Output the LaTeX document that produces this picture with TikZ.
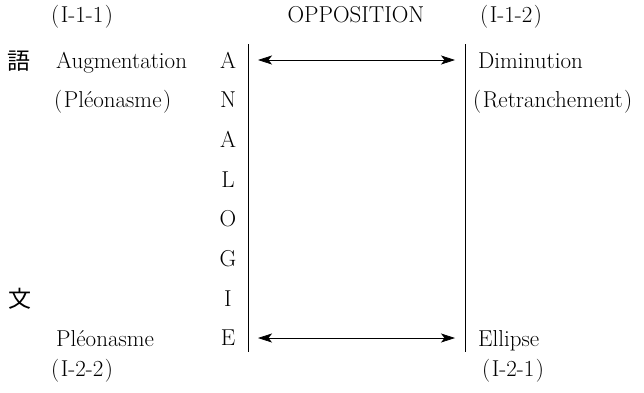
\documentclass[tikz,border=0pt]{standalone}
\usepackage{fontspec}
\newfontfamily\jfont{Noto Sans CJK JP}
\usetikzlibrary{arrows.meta}
% bracketed labels with a little air inside the parentheses
\newcommand{\brk}[1]{(\kern1.5pt#1\kern1.5pt)}
\begin{document}
\begin{tikzpicture}[x=1pt,y=-1pt,
  lbl/.style={inner sep=0pt, anchor=base west, font=\fontsize{23}{26}\selectfont},
  letter/.style={inner sep=0pt, anchor=base, font=\fontsize{23}{26}\selectfont},
  kanji/.style={inner sep=0pt, anchor=base, font=\jfont\fontsize{23}{26}\selectfont},
  rulebar/.style={line width=0.9pt},
  opp/.style={line width=0.7pt,
    {Stealth[length=14pt,width=9pt,inset=3.5pt]}-{Stealth[length=14pt,width=9pt,inset=3.5pt]}}]
\useasboundingbox (0,0) rectangle (644,392);

% top labels
\node[lbl] (c11) at (51,22) {\brk{I-1-1}};
\node[letter] (opp) at (356,22) {OPPOSITION};
\node[lbl] (c12) at (480,22) {\brk{I-1-2}};

% side labels
\node[kanji] (go) at (19,69) {語};
\node[kanji] (bun) at (20,307) {文};

% left column
\node[lbl] (aug) at (56,68) {Augmentation};
\node[lbl] (pleo1) at (54,107.7) {\brk{Pléonasme}};
\node[lbl] (pleo2) at (56,346) {Pléonasme};
\node[lbl] (c22) at (51,376) {\brk{I-2-2}};

% right column
\node[lbl] (dim) at (478,68) {Diminution};
\node[lbl] (retr) at (473,107.7) {\brk{Retranchement}};
\node[lbl] (ell) at (478,346) {Ellipse};
\node[lbl] (c21) at (482,376) {\brk{I-2-1}};

% ANALOGIE, read downwards
\foreach \ch [count=\k from 0] in {A,N,A,L,O,G,I,E}
  \node[letter] (an\k) at (228,68+39.71*\k) {\ch};

% vertical bars
\coordinate (lt) at (248,44);
\coordinate (lb) at (248,352);
\coordinate (rt) at (465,44);
\coordinate (rb) at (465,352);
\draw[rulebar] (lt) -- (lb);
\draw[rulebar] (rt) -- (rb);

% opposition arrows
\coordinate (u1) at (258,60);
\coordinate (u2) at (455,60);
\coordinate (d1) at (258,338);
\coordinate (d2) at (455,338);
\draw[opp] (u1) -- (u2);
\draw[opp] (d1) -- (d2);
\end{tikzpicture}
\end{document}
